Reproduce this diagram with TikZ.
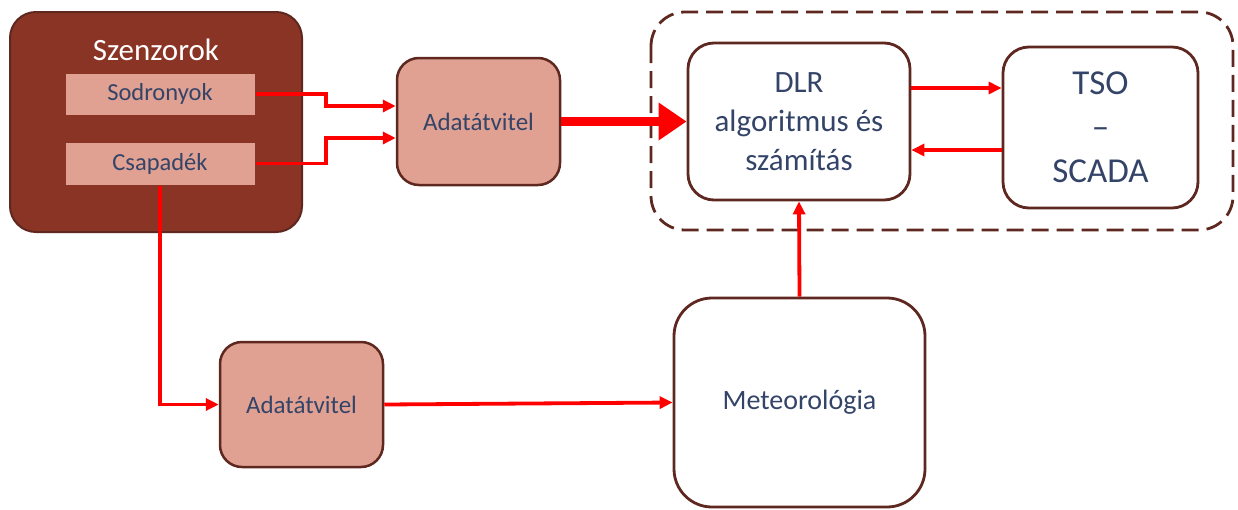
\documentclass[tikz,border=0pt]{standalone}
\usepackage{fontspec}
\setmainfont{Carlito}
\usetikzlibrary{arrows.meta,calc}
\definecolor{darkbrown}{RGB}{137,52,36}
\definecolor{edgebrown}{RGB}{94,40,32}
\definecolor{salmon}{RGB}{224,161,146}
\definecolor{txt}{RGB}{52,68,104}
\definecolor{arrred}{RGB}{255,0,0}
\tikzset{
  outerbox/.style={draw=edgebrown, line width=2pt, fill=darkbrown, rounded corners=26pt, inner sep=0pt},
  subbox/.style={draw=darkbrown, line width=1pt, fill=salmon, inner sep=0pt, text=txt, font=\fontsize{24.5}{28}\selectfont},
  salbox/.style={draw=edgebrown, line width=2.5pt, fill=salmon, rounded corners=22pt, inner sep=0pt, text=txt, font=\fontsize{25}{30}\selectfont},
  whitebox/.style={draw=edgebrown, line width=2.8pt, fill=white, rounded corners=26pt, inner sep=0pt, text=txt, align=center},
  arr/.style={draw=arrred, line width=3.8pt, -{Triangle[length=13pt,width=12pt]}},
  bigarr/.style={draw=arrred, line width=9pt, -{Triangle[length=28pt,width=36pt]}},
  dashbox/.style={draw=edgebrown, line width=2.8pt, dash pattern=on 17pt off 8pt, rounded corners=34pt}
}
\begin{document}
\begin{tikzpicture}[x=1pt,y=-1pt]
\useasboundingbox (0,0) rectangle (1238,509);
% dashed group
\draw[dashbox] (651,12) rectangle (1233,230);
% sensors
\node[outerbox, minimum width=292pt, minimum height=220pt] (sz) at (156,122) {};
\node[text=white, font=\fontsize{31}{36}\selectfont, anchor=base] (szt) at (156,60) {Szenzorok};
\node[subbox, minimum width=190pt, minimum height=42pt] (sod) at (160,94) {Sodronyok};
\node[subbox, minimum width=190pt, minimum height=43pt] (csa) at (160,163.5) {Csapadék};
% transfer boxes
\node[salbox, minimum width=163pt, minimum height=127pt] (a1) at (478.5,121.5) {Adatátvitel};
\node[salbox, minimum width=163pt, minimum height=125pt] (a2) at (301.5,404.5) {Adatátvitel};
% white boxes
\node[whitebox, minimum width=222pt, minimum height=157pt, font=\fontsize{31}{39}\selectfont] (dlr) at (799,121.5) {DLR\\algoritmus és\\számítás};
\node[whitebox, minimum width=195pt, minimum height=161pt, font=\fontsize{35}{44}\selectfont] (tso) at (1100.5,127.5) {TSO\\–\\SCADA};
\node[whitebox, rounded corners=38pt, minimum width=251pt, minimum height=209pt, font=\fontsize{28}{32}\selectfont] (met) at (799.5,402.5) {Meteorológia};
% connectors
\coordinate (j1) at (326,106);
\coordinate (j2) at (326,138);
\coordinate (y1) at (0,88);
\coordinate (y2) at (0,150);
\draw[arr] (sod.east) -| (j1) -- (a1.west |- j1);
\draw[arr] (csa.east) -| (j2) -- (a1.west |- j2);
\draw[bigarr] (a1.east) -- (dlr.west);
\draw[arr] (dlr.east |- y1) -- (tso.west |- y1);
\draw[arr] (tso.west |- y2) -- (dlr.east |- y2);
\draw[arr] (met.north) -- (dlr.south);
\draw[arr] (csa.south) |- (a2.west);
\draw[arr] (a2.east) -- (met.west);
\end{tikzpicture}
\end{document}
